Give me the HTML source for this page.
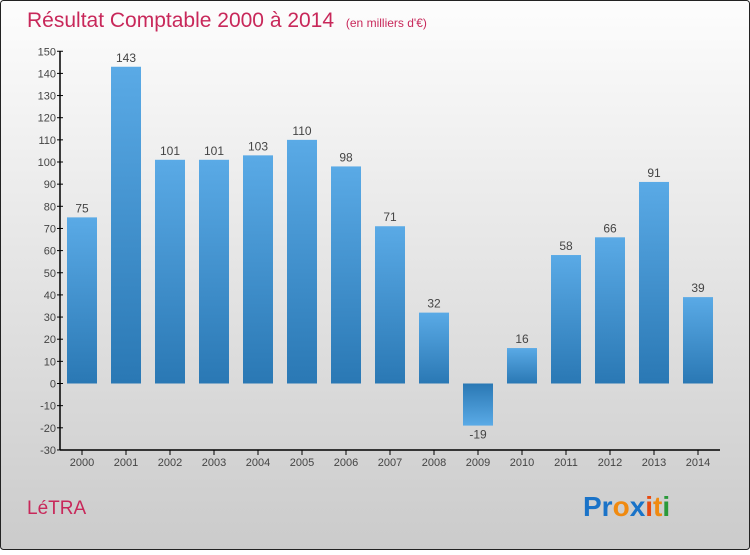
<!DOCTYPE html>
<html><head><meta charset="utf-8"><style>
body{margin:0;width:750px;height:550px;overflow:hidden;font-family:"Liberation Sans",sans-serif}
</style></head><body>
<svg width="750" height="550" xmlns="http://www.w3.org/2000/svg">
<defs>
<linearGradient id="bg" x1="0" y1="0" x2="0" y2="1"><stop offset="0" stop-color="#fdfdfd"/><stop offset="1" stop-color="#cbcbcb"/></linearGradient>
<linearGradient id="bar" x1="0" y1="0" x2="0" y2="1"><stop offset="0" stop-color="#5aaae6"/><stop offset="1" stop-color="#2a78b4"/></linearGradient>
<linearGradient id="negbar" x1="0" y1="0" x2="0" y2="1"><stop offset="0" stop-color="#2a78b4"/><stop offset="1" stop-color="#5aaae6"/></linearGradient>
</defs>
<rect x="0.5" y="0.5" width="749" height="549" rx="3" fill="url(#bg)" stroke="#222"/>
<text x="27" y="27" font-size="21" fill="#c8285a">Résultat Comptable 2000 à 2014 <tspan font-size="12" dx="6">(en milliers d'€)</tspan></text>
<g id="axes"></g><g id="bars"></g>
<text x="27" y="514" font-size="19" fill="#c8285a">LéTRA</text>
<text x="583" y="516" font-size="28" font-weight="bold"><tspan fill="#1a73c8">Pr</tspan><tspan fill="#f08a10">o</tspan><tspan fill="#1a73c8">x</tspan><tspan fill="#e84a10">i</tspan><tspan fill="#f08a10">t</tspan><tspan fill="#2a9a3a">i</tspan></text>
</svg>
<script>
const years=[2000,2001,2002,2003,2004,2005,2006,2007,2008,2009,2010,2011,2012,2013,2014];
const values=[75,143,101,101,103,110,98,71,32,-19,16,58,66,91,39];
const ticks=[150,140,130,120,110,100,90,80,70,60,50,40,30,20,10,0,-10,-20,-30];
const NS="http://www.w3.org/2000/svg";
const y=v=>383.5-v*2.215, x=i=>82+i*44;
function mk(t,a,p){const e=document.createElementNS(NS,t);for(const k in a)e.setAttribute(k,a[k]);p.appendChild(e);return e;}
const ax=document.getElementById('axes'), bg=document.getElementById('bars');
const yl=mk('line',{x1:60,y1:y(150),x2:60,y2:y(-30),stroke:'#000','stroke-width':1.5},ax);


const xl=mk('line',{x1:60,y1:y(-30),x2:720,y2:y(-30),stroke:'#000','stroke-width':1.5},ax);


ticks.forEach(t=>{
 mk('line',{x1:57,x2:63,y1:y(t),y2:y(t),stroke:'#000'},ax);
 const tx=mk('text',{x:56,y:y(t)+4,'text-anchor':'end','font-size':11,fill:'#444'},ax);
 tx.textContent=t<0?'-'+(-t):t;
 
 
});
years.forEach((yr,i)=>{
 const v=values[i];
 mk('line',{x1:x(i),x2:x(i),y1:y(-30),y2:y(-30)+5,stroke:'#000'},ax);
 const lt=mk('text',{x:x(i),y:466,'text-anchor':'middle','font-size':11,fill:'#444'},ax);
 lt.textContent=yr;
 
 
 const top=Math.min(y(v),y(0)), h=Math.abs(y(v)-y(0));
 const r=mk('rect',{x:x(i)-15,y:top,width:30,height:h,fill:v<0?'url(#negbar)':'url(#bar)'},bg);
 
 
 const vt=mk('text',{x:x(i),y:v<0?y(v)+13:y(v)-5,'text-anchor':'middle','font-size':12,fill:'#444'},bg);
 vt.textContent=v;
 
 
});
</script>
</body></html>
